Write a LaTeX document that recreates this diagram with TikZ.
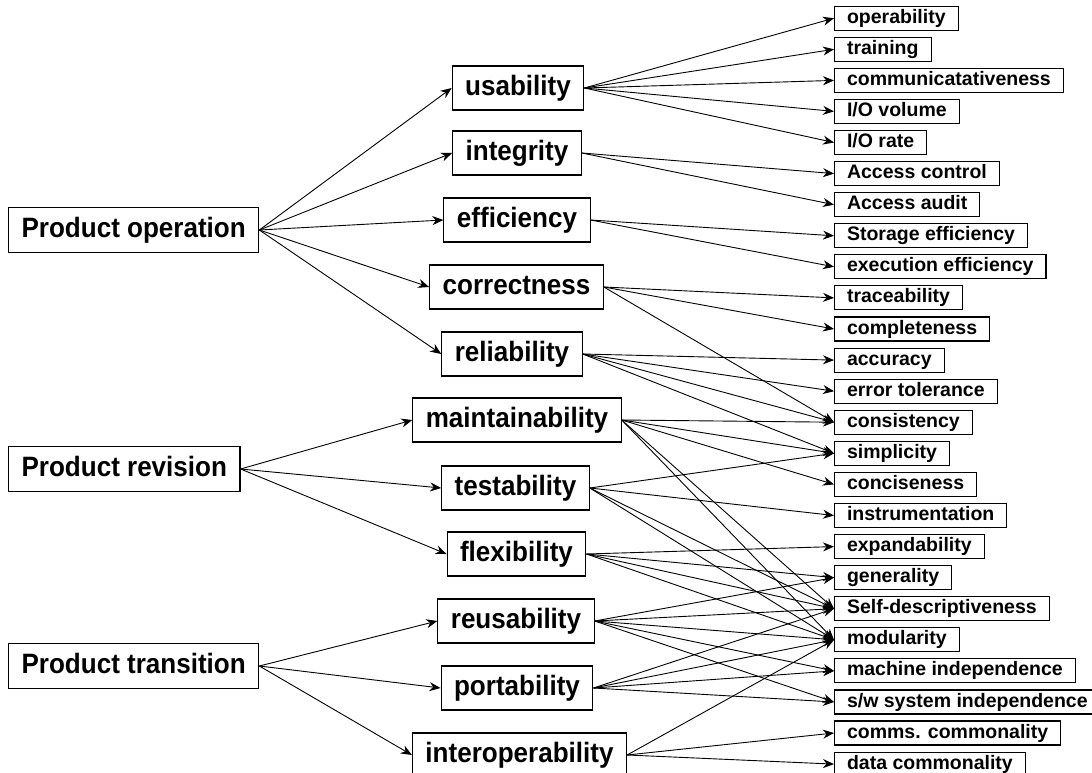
\documentclass[tikz,border=0pt]{standalone}
\usepackage{fontspec}
\setmainfont{Liberation Sans}
\newfontfamily\tallsans[FakeStretch=0.93]{Liberation Sans}
\usetikzlibrary{arrows.meta, positioning}

\begin{document}
\begin{tikzpicture}[
    x=1pt, y=-1pt,
    box/.style={draw, line width=1.1pt, inner ysep=0pt},
    group/.style={box, anchor=west, inner xsep=13pt, minimum height=45pt, text height=20pt, text depth=5.6pt, font=\tallsans\fontsize{28}{32}\selectfont\bfseries},
    factor/.style={box, inner xsep=13pt, minimum height=44pt, text height=20pt, text depth=5.6pt, font=\tallsans\fontsize{28}{32}\selectfont\bfseries},
    crit/.style={box, anchor=west, inner xsep=12.5pt, minimum height=24pt, text height=14pt, text depth=4pt, font=\fontsize{19.5}{22}\selectfont\bfseries},
    link/.style={-{Stealth[length=11pt, width=9pt]}, line width=0.9pt}
]
    \useasboundingbox (0,0) rectangle (1092,773);

    \node[group] (pop) at (8,230) {Product operation};
    \node[group] (prv) at (8,469) {Product revision};
    \node[group] (ptr) at (8,666) {Product transition};

    \node[factor] (usa) at (518,88) {usability};
    \node[factor] (itg) at (517,153) {integrity};
    \node[factor] (eff) at (517,220) {efficiency};
    \node[factor] (cor) at (516.5,287) {correctness};
    \node[factor] (rel) at (512,354) {reliability};
    \node[factor] (mnt) at (517,420) {maintainability};
    \node[factor] (tst) at (515.5,488) {testability};
    \node[factor] (flx) at (516.5,554) {flexibility};
    \node[factor] (reu) at (516,621) {reusability};
    \node[factor] (por) at (517,688) {portability};
    \node[factor] (ito) at (519.5,755) {interoperability};

    \node[crit] (op)  at (834,18.2)  {operability};
    \node[crit] (tr)  at (834,49.3)  {training};
    \node[crit] (com) at (834,80.4)  {communicatativeness};
    \node[crit] (iov) at (834,111.4) {I/O volume};
    \node[crit] (ior) at (834,142.5) {I/O rate};
    \node[crit] (acc) at (834,173.6) {Access control};
    \node[crit] (aud) at (834,204.7) {Access audit};
    \node[crit] (sto) at (834,235.8) {Storage efficiency};
    \node[crit] (exe) at (834,266.8) {execution efficiency};
    \node[crit] (trc) at (834,297.9) {traceability};
    \node[crit] (cmp) at (834,329.0) {completeness};
    \node[crit] (acu) at (834,360.1) {accuracy};
    \node[crit] (err) at (834,391.2) {error tolerance};
    \node[crit] (cns) at (834,422.2) {consistency};
    \node[crit] (smp) at (834,453.3) {simplicity};
    \node[crit] (cnc) at (834,484.4) {conciseness};
    \node[crit] (ins) at (834,515.5) {instrumentation};
    \node[crit] (exp) at (834,546.6) {expandability};
    \node[crit] (gen) at (834,577.6) {generality};
    \node[crit] (sdc) at (834,608.7) {Self-descriptiveness};
    \node[crit] (mod) at (834,639.8) {modularity};
    \node[crit] (mci) at (834,670.9) {machine independence};
    \node[crit] (swi) at (834,702.0) {s/w system independence};
    \node[crit] (cmm) at (834,733.0) {comms. commonality};
    \node[crit] (dat) at (834,764.1) {data commonality};

    \draw[link] (pop.east) -- (usa.west);
    \draw[link] (pop.east) -- (itg.west);
    \draw[link] (pop.east) -- (eff.west);
    \draw[link] (pop.east) -- (cor.west);
    \draw[link] (pop.east) -- (rel.west);
    \draw[link] (prv.east) -- (mnt.west);
    \draw[link] (prv.east) -- (tst.west);
    \draw[link] (prv.east) -- (flx.west);
    \draw[link] (ptr.east) -- (reu.west);
    \draw[link] (ptr.east) -- (por.west);
    \draw[link] (ptr.east) -- (ito.west);

    \draw[link] (usa.east) -- (op.west);
    \draw[link] (usa.east) -- (tr.west);
    \draw[link] (usa.east) -- (com.west);
    \draw[link] (usa.east) -- (iov.west);
    \draw[link] (usa.east) -- (ior.west);
    \draw[link] (itg.east) -- (acc.west);
    \draw[link] (itg.east) -- (aud.west);
    \draw[link] (eff.east) -- (sto.west);
    \draw[link] (eff.east) -- (exe.west);
    \draw[link] (cor.east) -- (trc.west);
    \draw[link] (cor.east) -- (cmp.west);
    \draw[link] (cor.east) -- (cns.west);
    \draw[link] (rel.east) -- (acu.west);
    \draw[link] (rel.east) -- (err.west);
    \draw[link] (rel.east) -- (cns.west);
    \draw[link] (rel.east) -- (smp.west);
    \draw[link] (mnt.east) -- (cns.west);
    \draw[link] (mnt.east) -- (smp.west);
    \draw[link] (mnt.east) -- (cnc.west);
    \draw[link] (mnt.east) -- (sdc.west);
    \draw[link] (mnt.east) -- (mod.west);
    \draw[link] (tst.east) -- (smp.west);
    \draw[link] (tst.east) -- (ins.west);
    \draw[link] (tst.east) -- (sdc.west);
    \draw[link] (tst.east) -- (mod.west);
    \draw[link] (flx.east) -- (exp.west);
    \draw[link] (flx.east) -- (gen.west);
    \draw[link] (flx.east) -- (sdc.west);
    \draw[link] (flx.east) -- (mod.west);
    \draw[link] (reu.east) -- (gen.west);
    \draw[link] (reu.east) -- (sdc.west);
    \draw[link] (reu.east) -- (mod.west);
    \draw[link] (reu.east) -- (mci.west);
    \draw[link] (reu.east) -- (swi.west);
    \draw[link] (por.east) -- (sdc.west);
    \draw[link] (por.east) -- (mod.west);
    \draw[link] (por.east) -- (mci.west);
    \draw[link] (por.east) -- (swi.west);
    \draw[link] (ito.east) -- (mod.west);
    \draw[link] (ito.east) -- (cmm.west);
    \draw[link] (ito.east) -- (dat.west);
\end{tikzpicture}
\end{document}
